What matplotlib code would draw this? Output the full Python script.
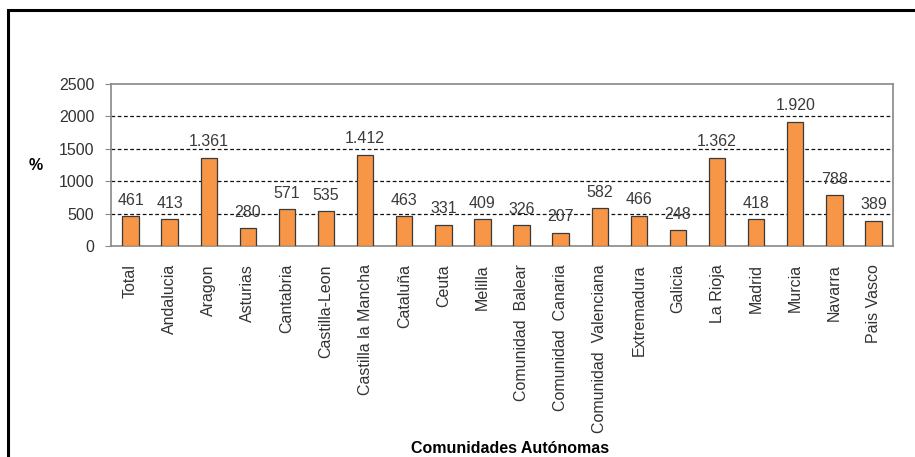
import matplotlib.pyplot as plt
import matplotlib.patches as mpatches
import numpy as np

plt.rcParams['font.family'] = ['Liberation Sans', 'DejaVu Sans']

comunidades = ['Total', 'Andalucia', 'Aragon', 'Asturias', 'Cantabria', 'Castilla-Leon',
               'Castilla la Mancha', 'Cataluña', 'Ceuta', 'Melilla', 'Comunidad  Balear',
               'Comunidad  Canaria', 'Comunidad  Valenciana', 'Extremadura', 'Galicia',
               'La Rioja', 'Madrid', 'Murcia', 'Navarra', 'Pais Vasco']
valores = [461, 413, 1361, 280, 571, 535, 1412, 463, 331, 409, 326, 207, 582, 466,
           248, 1362, 418, 1920, 788, 389]
etiquetas = ['461', '413', '1.361', '280', '571', '535', '1.412', '463', '331', '409',
             '326', '207', '582', '466', '248', '1.362', '418', '1.920', '788', '389']
yticks = [0, 500, 1000, 1500, 2000, 2500]

fig = plt.figure(figsize=(9.15, 4.57), dpi=100)
ax = fig.add_axes([0.1213, 0.4617, 0.8547, 0.3545])

x = np.arange(len(comunidades))
bars = ax.bar(x, valores, width=0.42, color='#F79646', edgecolor='#3a3a3a',
              linewidth=0.9, zorder=3)

for b, t in zip(bars, etiquetas):
    ax.annotate(t, (b.get_x() + b.get_width() / 2, b.get_height()),
                xytext=(0, 6), textcoords='offset points', ha='center', va='bottom',
                fontsize=11.5, color='#3a3a3a', zorder=4)

ax.set_xlim(-0.5, len(comunidades) - 0.5)
ax.set_ylim(0, 2500)
ax.set_yticks(yticks)
ax.set_yticklabels([str(v) for v in yticks], fontsize=11.5, color='#333333')
ax.set_xticks(x)
ax.set_xticklabels(comunidades, rotation=90, fontsize=11.5, color='#333333')
ax.tick_params(axis='x', length=0, pad=13)
ax.tick_params(axis='y', length=4, color='#888888', pad=8)

for v in yticks[1:-1]:
    ax.axhline(v, color='#111111', linestyle=(0, (3, 2)), linewidth=0.9, zorder=1)

for s in ax.spines.values():
    s.set_color('#888888')
    s.set_linewidth(1.2)

fig.text(0.031, 0.638, '%', fontsize=11.5, fontweight='bold', ha='left', va='center')
fig.text(0.557, 0.002, 'Comunidades Autónomas', fontsize=11.5, fontweight='bold',
         ha='center', va='bottom')

fig.patches.append(mpatches.Rectangle((0.0085, -0.1), 1.1, 1.078, transform=fig.transFigure,
                                      fill=False, edgecolor='black', linewidth=2.2))

fig.savefig('out.png', dpi=100)
